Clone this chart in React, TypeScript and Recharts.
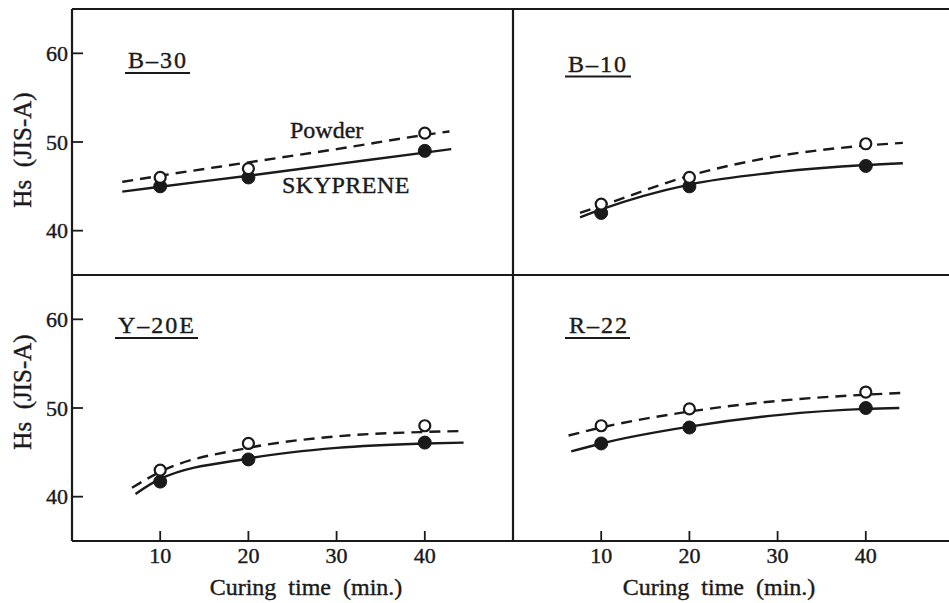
import React from 'react';
import { LineChart, Line, XAxis, YAxis, ReferenceLine } from 'recharts';

// ---- data ----
const pointTimes = [10, 20, 40];
const xTicks = [10, 20, 30, 40];
const yTicks = [40, 50, 60];

// B-30
const b30PowderPts = [46, 47, 51];
const b30SkyPts = [45, 46, 49];
const b30PowderCurveX = [5.7, 10, 20, 30, 40, 42.8];
const b30PowderCurveY = [45.5, 46.2, 47.7, 49.2, 50.8, 51.2];
const b30SkyCurveX = [5.7, 10, 20, 30, 40, 43];
const b30SkyCurveY = [44.4, 44.95, 46.2, 47.5, 48.8, 49.2];

// B-10
const b10PowderPts = [43, 46, 49.8];
const b10SkyPts = [42, 45, 47.3];
const b10PowderCurveX = [7.6, 10, 20, 30, 40, 44.2];
const b10PowderCurveY = [42.0, 42.8, 46.2, 48.4, 49.6, 49.9];
const b10SkyCurveX = [7.6, 10, 20, 30, 40, 44.2];
const b10SkyCurveY = [41.5, 42.4, 45.2, 46.6, 47.4, 47.6];

// Y-20E
const y20PowderPts = [43, 46, 48];
const y20SkyPts = [41.7, 44.2, 46.1];
const y20PowderCurveX = [6.8, 10, 20, 30, 40, 44.5];
const y20PowderCurveY = [41.0, 42.8, 45.5, 46.8, 47.3, 47.4];
const y20SkyCurveX = [7.2, 10, 20, 30, 40, 44.4];
const y20SkyCurveY = [40.3, 42.0, 44.3, 45.5, 46.0, 46.1];

// R-22
const r22PowderPts = [48, 49.9, 51.8];
const r22SkyPts = [46, 47.8, 50];
const r22PowderCurveX = [6.3, 10, 20, 30, 40, 44];
const r22PowderCurveY = [46.9, 47.8, 49.6, 50.8, 51.5, 51.7];
const r22SkyCurveX = [6.6, 10, 20, 30, 40, 43.8];
const r22SkyCurveY = [45.1, 46.0, 47.9, 49.2, 49.9, 50.0];

const zip = (xs: number[], ys: number[]) => xs.map((x, i) => ({ x, y: ys[i] }));

const INK = '#1a1a1a';
const FONT = "'Liberation Serif', 'Times New Roman', serif";

type PanelProps = {
  powderPts: number[];
  skyPts: number[];
  powderCurve: { x: number; y: number }[];
  skyCurve: { x: number; y: number }[];
  left: boolean;
  bottom: boolean;
};

const tickStyle = { fill: INK, stroke: INK, strokeWidth: 0.4, fontSize: 22, fontFamily: FONT };

function Panel({ powderPts, skyPts, powderCurve, skyCurve, left, bottom }: PanelProps) {
  const width = left ? 518 : 451;
  const height = bottom ? 338 : 280;
  const margin = {
    top: bottom ? 10 : 9,
    right: left ? 5 : 0,
    bottom: bottom ? 0 : 5,
    left: left ? 0 : 10,
  };
  const powderData = pointTimes.map((x, i) => ({ x, y: powderPts[i] }));
  const skyData = pointTimes.map((x, i) => ({ x, y: skyPts[i] }));
  return (
    <LineChart width={width} height={height} margin={margin}>
      <XAxis
        type="number"
        dataKey="x"
        domain={[0, 50]}
        allowDataOverflow
        ticks={xTicks}
        interval={0}
        hide={!bottom}
        height={62}
        axisLine={{ stroke: INK, strokeWidth: 2.2 }}
        tickLine={{ stroke: INK, strokeWidth: 1.8 }}
        tickSize={-10}
        tickMargin={16}
        tick={tickStyle}
      />
      <YAxis
        type="number"
        dataKey="y"
        domain={[35, 65]}
        allowDataOverflow
        ticks={yTicks}
        interval={0}
        hide={!left}
        width={72}
        axisLine={{ stroke: INK, strokeWidth: 2.2 }}
        tickLine={{ stroke: INK, strokeWidth: 1.8 }}
        tickSize={-11}
        tickMargin={15}
        tick={tickStyle}
      />
      <ReferenceLine y={65} stroke={INK} strokeWidth={2.2} />
      {left && <ReferenceLine x={50} stroke={INK} strokeWidth={2.2} />}
      <Line
        data={skyCurve}
        dataKey="y"
        type="monotone"
        stroke={INK}
        strokeWidth={2.4}
        dot={false}
        activeDot={false}
        isAnimationActive={false}
      />
      <Line
        data={powderCurve}
        dataKey="y"
        type="monotone"
        stroke={INK}
        strokeWidth={2.4}
        strokeDasharray="11 7"
        dot={false}
        activeDot={false}
        isAnimationActive={false}
      />
      <Line
        data={skyData}
        dataKey="y"
        stroke="none"
        dot={{ r: 6.5, fill: INK, stroke: INK, strokeWidth: 1 }}
        activeDot={false}
        isAnimationActive={false}
      />
      <Line
        data={powderData}
        dataKey="y"
        stroke="none"
        dot={{ r: 5.5, fill: '#fff', stroke: INK, strokeWidth: 2.2 }}
        activeDot={false}
        isAnimationActive={false}
      />
    </LineChart>
  );
}

const titles = [
  { text: 'B–30', x: 128, y: 68, ux1: 125, ux2: 190 },
  { text: 'B–10', x: 568, y: 71.5, ux1: 565, ux2: 631 },
  { text: 'Y–20E', x: 118, y: 333, ux1: 115, ux2: 198 },
  { text: 'R–22', x: 569, y: 333, ux1: 565, ux2: 630 },
];

export default function App() {
  return (
    <div
      style={{
        position: 'absolute',
        left: 0,
        top: 0,
        width: 949,
        height: 603,
        overflow: 'hidden',
        background: '#fff',
      }}
    >
      <div style={{ position: 'absolute', left: 0, top: 0 }}>
        <Panel
          powderPts={b30PowderPts}
          skyPts={b30SkyPts}
          powderCurve={zip(b30PowderCurveX, b30PowderCurveY)}
          skyCurve={zip(b30SkyCurveX, b30SkyCurveY)}
          left
          bottom={false}
        />
      </div>
      <div style={{ position: 'absolute', left: 503, top: 0 }}>
        <Panel
          powderPts={b10PowderPts}
          skyPts={b10SkyPts}
          powderCurve={zip(b10PowderCurveX, b10PowderCurveY)}
          skyCurve={zip(b10SkyCurveX, b10SkyCurveY)}
          left={false}
          bottom={false}
        />
      </div>
      <div style={{ position: 'absolute', left: 0, top: 265 }}>
        <Panel
          powderPts={y20PowderPts}
          skyPts={y20SkyPts}
          powderCurve={zip(y20PowderCurveX, y20PowderCurveY)}
          skyCurve={zip(y20SkyCurveX, y20SkyCurveY)}
          left
          bottom
        />
      </div>
      <div style={{ position: 'absolute', left: 503, top: 265 }}>
        <Panel
          powderPts={r22PowderPts}
          skyPts={r22SkyPts}
          powderCurve={zip(r22PowderCurveX, r22PowderCurveY)}
          skyCurve={zip(r22SkyCurveX, r22SkyCurveY)}
          left={false}
          bottom
        />
      </div>
      <svg
        width={949}
        height={603}
        style={{ position: 'absolute', left: 0, top: 0, pointerEvents: 'none' }}
        fontFamily={FONT}
        fill={INK}
        stroke={INK}
        strokeWidth={0.4}
      >
        <text
          transform="translate(31,150) rotate(-90)"
          textAnchor="middle"
          fontSize={25}
          style={{ whiteSpace: 'pre' }}
        >
          {'Hs  (JIS-A)'}
        </text>
        <text
          transform="translate(31,392) rotate(-90)"
          textAnchor="middle"
          fontSize={25}
          style={{ whiteSpace: 'pre' }}
        >
          {'Hs  (JIS-A)'}
        </text>
        <text x={306} y={595} textAnchor="middle" fontSize={24} style={{ whiteSpace: 'pre' }}>
          {'Curing  time  (min.)'}
        </text>
        <text x={719} y={595} textAnchor="middle" fontSize={24} style={{ whiteSpace: 'pre' }}>
          {'Curing  time  (min.)'}
        </text>
        <text x={290} y={138} fontSize={24}>
          Powder
        </text>
        <text x={282} y={193} fontSize={24} letterSpacing={0.5}>
          SKYPRENE
        </text>
        {titles.map((t) => (
          <g key={t.text}>
            <text x={t.x} y={t.y} fontSize={24} letterSpacing={2}>
              {t.text}
            </text>
            <line x1={t.ux1} x2={t.ux2} y1={t.y + 5} y2={t.y + 5} stroke={INK} strokeWidth={2.2} />
          </g>
        ))}
      </svg>
    </div>
  );
}
